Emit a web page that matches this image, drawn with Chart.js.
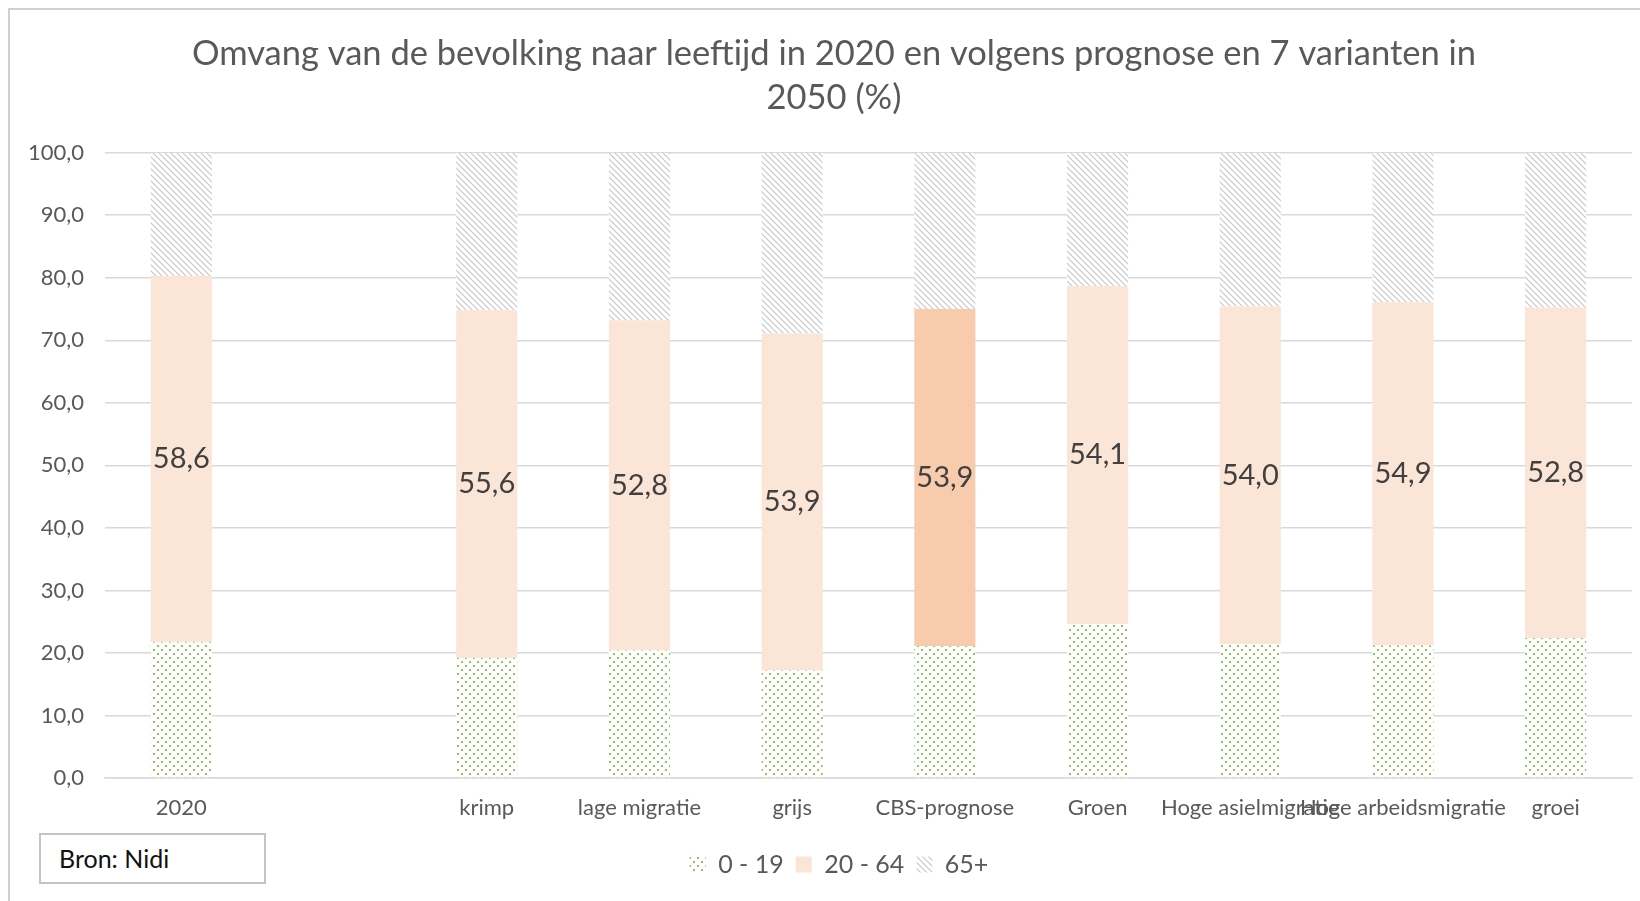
<!DOCTYPE html>
<html>
<head>
<meta charset="utf-8">
<script src="https://cdn.jsdelivr.net/npm/chart.js@4"></script>
<style>
  body { margin: 0; background: #fff; }
  #wrap { position: relative; width: 1640px; height: 901px; }
  #frame { position: absolute; left: 8px; top: 8px; right: -4px; bottom: -4px;
           border-left: 2px solid #d0d0d0; border-top: 2px solid #d0d0d0; pointer-events: none; }
  #bron { position: absolute; left: 39px; top: 833px; width: 205px; height: 47px;
          border: 2px solid #c4c4c4; font: 25px Lato, sans-serif; color: #111;
          line-height: 47px; padding-left: 18px; box-sizing: content-box; background: #fff; }
</style>
</head>
<body>
<div id="wrap">
  <canvas id="myChart" width="1640" height="901"></canvas>
  <div id="frame"></div>
  <div id="bron">Bron: Nidi</div>
</div>
<script>
const categories = ["2020", "", "krimp", "lage migratie", "grijs", "CBS-prognose",
  "Groen", "Hoge asielmigratie", "Hoge arbeidsmigratie", "groei"];
const young = [21.7, null, 19.2, 20.4, 17.2, 21.1, 24.6, 21.4, 21.2, 22.4];
const working = [58.6, null, 55.6, 52.8, 53.9, 53.9, 54.1, 54.0, 54.9, 52.8];
const old = [19.7, null, 25.2, 26.8, 28.9, 25.0, 21.3, 24.6, 23.9, 24.8];
const yTicks = [0, 10, 20, 30, 40, 50, 60, 70, 80, 90, 100];

function makePattern(draw, size) {
  const c = document.createElement("canvas");
  c.width = size;
  c.height = size;
  const ctx = c.getContext("2d");
  ctx.fillStyle = "#fff";
  ctx.fillRect(0, 0, size, size);
  draw(ctx);
  return document.getElementById("myChart").getContext("2d").createPattern(c, "repeat");
}

const dots = makePattern((ctx) => {
  ctx.fillStyle = "#8cc95a";
  ctx.fillRect(1, 1, 2, 2);
  ctx.fillRect(5, 5, 2, 2);
}, 8);

const stripes = makePattern((ctx) => {
  ctx.strokeStyle = "#c8c8c8";
  ctx.lineWidth = 1.2;
  ctx.beginPath();
  ctx.moveTo(-1, -1); ctx.lineTo(7, 7);
  ctx.moveTo(-4, 2); ctx.lineTo(2, 8);
  ctx.moveTo(2, -4); ctx.lineTo(8, 2);
  ctx.stroke();
}, 6);

const peach = categories.map((c) => (c === "CBS-prognose" ? "#f8cbad" : "#fbe5d6"));

const valueLabels = {
  id: "valueLabels",
  afterDatasetsDraw(chart) {
    const ctx = chart.ctx;
    const meta = chart.getDatasetMeta(1);
    ctx.save();
    ctx.font = "29px Lato, sans-serif";
    ctx.fillStyle = "#404040";
    ctx.textAlign = "center";
    ctx.textBaseline = "middle";
    meta.data.forEach((bar, i) => {
      if (working[i] == null) return;
      const p = bar.getProps(["x", "y", "base"], true);
      ctx.fillText(working[i].toFixed(1).replace(".", ","), p.x, (p.y + p.base) / 2);
    });
    ctx.restore();
  },
};

// Excel centres title and legend a bit right of the canvas middle
const shiftBoxes = {
  id: "shiftBoxes",
  beforeDraw(chart) {
    chart.titleBlock.left = 36;
    chart.legend.left = 46;
  },
};

const data = {
  labels: categories,
  datasets: [
    { label: "0 - 19", data: young, backgroundColor: dots },
    { label: "20 - 64", data: working, backgroundColor: peach },
    { label: "65+", data: old, backgroundColor: stripes },
  ],
};

const config = {
  type: "bar",
  data,
  options: {
    responsive: false,
    animation: false,
    layout: { padding: { left: 0, right: 8, top: 0, bottom: 14 } },
    datasets: { bar: { categoryPercentage: 1, barPercentage: 0.4 } },
    scales: {
      x: {
        stacked: true,
        grid: { display: false, drawTicks: false },
        border: { color: "#d9d9d9", width: 1.5 },
        ticks: {
          autoSkip: false, maxRotation: 0, minRotation: 0, padding: 17,
          color: "#595959", font: { family: "Lato", size: 22 },
        },
        afterFit: (s) => { s.height = 62; },
      },
      y: {
        stacked: true,
        min: 0,
        max: 100,
        afterBuildTicks: (s) => { s.ticks = yTicks.map((v) => ({ value: v })); },
        grid: { color: "#d9d9d9", lineWidth: 1.5, drawTicks: false },
        border: { display: false },
        ticks: {
          padding: 21, color: "#595959", font: { family: "Lato", size: 22 },
          callback: (v) => v.toFixed(1).replace(".", ","),
        },
        afterFit: (s) => { s.width = 105; },
      },
    },
    plugins: {
      title: {
        display: true,
        text: ["Omvang van de bevolking naar leeftijd in 2020 en volgens prognose en 7 varianten in", "2050 (%)"],
        color: "#595959",
        font: { family: "Lato", size: 34.5, weight: "normal", lineHeight: 1.3 },
        padding: { top: 31, bottom: 32 },
      },
      legend: {
        position: "bottom",
        labels: {
          color: "#595959", font: { family: "Lato", size: 25 },
          boxWidth: 16, boxHeight: 16, padding: 12,
        },
      },
      tooltip: { enabled: false },
    },
  },
  plugins: [valueLabels, shiftBoxes],
};

const myChart = new Chart(document.getElementById("myChart"), config);
</script>
</body>
</html>
